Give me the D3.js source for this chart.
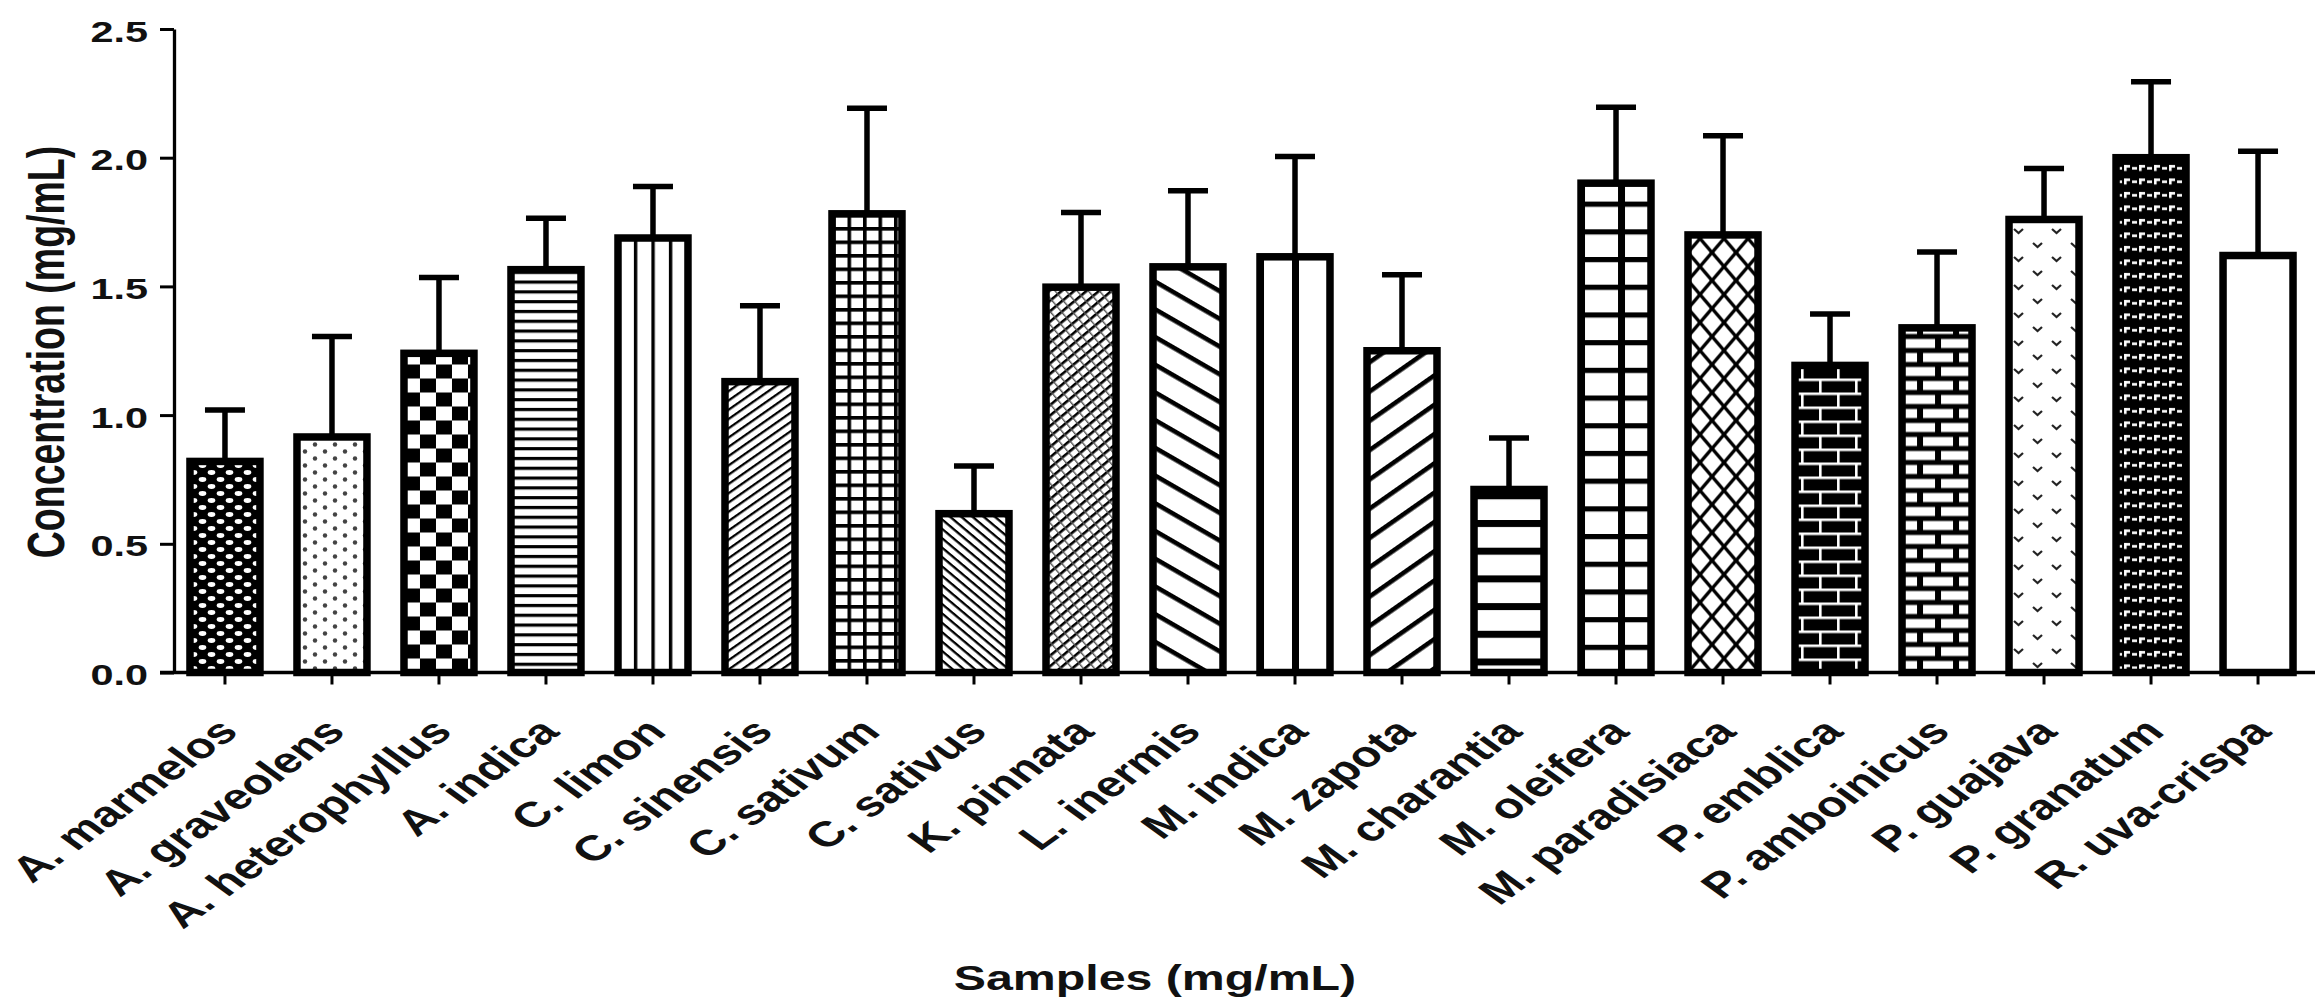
<!DOCTYPE html>
<html><head><meta charset="utf-8">
<script src="https://cdn.jsdelivr.net/npm/d3@7"></script>
<style>html,body{margin:0;padding:0;background:#fff;} svg{display:block;}</style>
</head><body>
<svg id="chart" width="2315" height="1003"></svg>
<script>
// ---- data ----
const categories = ["A. marmelos","A. graveolens","A. heterophyllus","A. indica","C. limon","C. sinensis","C. sativum","C. sativus","K. pinnata","L. inermis","M. indica","M. zapota","M. charantia","M. oleifera","M. paradisiaca","P. emblica","P. amboinicus","P. guajava","P. granatum","R. uva-crispa"];
const means = [0.82, 0.915, 1.24, 1.565, 1.688, 1.13, 1.782, 0.617, 1.497, 1.576, 1.615, 1.25, 0.711, 1.901, 1.70, 1.193, 1.339, 1.76, 2.00, 1.62];
const errors = [0.20, 0.39, 0.295, 0.20, 0.20, 0.295, 0.41, 0.185, 0.29, 0.296, 0.39, 0.295, 0.20, 0.295, 0.385, 0.20, 0.295, 0.198, 0.295, 0.405];
const yTicks = [0, 0.5, 1.0, 1.5, 2.0, 2.5];
const yTitle = "Concentration (mg/mL)";
const xTitle = "Samples (mg/mL)";

// ---- layout ----
const W = 2315, H = 1003;
const SX = 1.38; // horizontal stretch of the original figure text
const FONT = "'Liberation Sans', Arial, Helvetica, sans-serif";
const svg = d3.select("#chart");
svg.append("rect").attr("width", W).attr("height", H).attr("fill", "#fff");

const x = d3.scaleBand().domain(categories).range([175, 2308]).paddingInner(0.346).paddingOuter(0.14);
const y = d3.scaleLinear().domain([0, 2.5]).range([672.5, 29]);
const bw = x.bandwidth();
const y0 = y(0);

// ---- patterns ----
const defs = svg.append("defs");
function mk(id, w, h, bg, opts = {}) {
  const p = defs.append("pattern").attr("id", id).attr("patternUnits", "userSpaceOnUse")
    .attr("width", w).attr("height", h);
  if (opts.x !== undefined) p.attr("x", opts.x);
  if (opts.y !== undefined) p.attr("y", opts.y);
  if (opts.rot !== undefined) p.attr("patternTransform", `rotate(${opts.rot})`);
  p.append("rect").attr("width", w).attr("height", h).attr("fill", bg);
  return p;
}
function r(p, a, b, w, h, c) { p.append("rect").attr("x", a).attr("y", b).attr("width", w).attr("height", h).attr("fill", c); }

const makers = [
  (id, bx) => { const p = mk(id, 18, 14, "#000");
    p.append("ellipse").attr("cx", 4.5).attr("cy", 3.5).attr("rx", 3.8).attr("ry", 2.4).attr("fill", "#fff");
    p.append("ellipse").attr("cx", 13.5).attr("cy", 10.5).attr("rx", 3.8).attr("ry", 2.4).attr("fill", "#fff");
    p.append("ellipse").attr("cx", -4.5).attr("cy", 10.5).attr("rx", 3.8).attr("ry", 2.4).attr("fill", "#fff");
    p.append("ellipse").attr("cx", 22.5).attr("cy", 3.5).attr("rx", 3.8).attr("ry", 2.4).attr("fill", "#fff"); },
  (id, bx) => { const p = mk(id, 20, 14, "#fff");
    p.append("circle").attr("cx", 5).attr("cy", 3.5).attr("r", 2.2).attr("fill", "#444");
    p.append("circle").attr("cx", 15).attr("cy", 10.5).attr("r", 2.2).attr("fill", "#444"); },
  (id, bx) => { const p = mk(id, 32, 28, "#fff", {x: bx, y: y0});
    r(p, 0, 0, 16, 14, "#000"); r(p, 16, 14, 16, 14, "#000"); },
  (id, bx) => { const p = mk(id, 10, 9.8, "#fff", {y: y0}); r(p, 0, 0, 10, 3.2, "#000"); },
  (id, bx) => { const p = mk(id, bw / 4, 10, "#fff", {x: bx - 1.6}); r(p, 0, 0, 3.4, 10, "#000"); },
  (id, bx) => { const p = mk(id, 10, 7.6, "#fff", {rot: -35}); r(p, 0, 0, 10, 2.3, "#000"); },
  (id, bx) => { const p = mk(id, 15.5, 13.5, "#fff", {x: bx, y: y0});
    r(p, 0, 0, 15.5, 3.6, "#000"); r(p, 0, 0, 3.6, 13.5, "#000"); },
  (id, bx) => { const p = mk(id, 10, 7.2, "#fff", {rot: 40}); r(p, 0, 0, 10, 2.3, "#000"); },
  (id, bx) => { const p = mk(id, 8.5, 8, "#fff", {rot: -40});
    r(p, 0, 0, 8.5, 2.6, "#000"); r(p, 0, 0, 1.4, 8, "#555"); },
  (id, bx) => { const p = mk(id, 10, 24, "#fff", {rot: 30}); r(p, 0, 0, 10, 4.6, "#000"); },
  (id, bx) => { const p = mk(id, bw / 2, 10, "#fff", {x: bx - 3}); r(p, 0, 0, 7, 10, "#000"); },
  (id, bx) => { const p = mk(id, 10, 24, "#fff", {rot: -35}); r(p, 0, 0, 10, 4.6, "#000"); },
  (id, bx) => { const p = mk(id, 10, 27.7, "#fff", {y: y0 - 14}); r(p, 0, 0, 10, 7, "#000"); },
  (id, bx) => { const p = mk(id, 40, 27.7, "#fff", {x: bx - 3, y: y0});
    r(p, 0, 0, 7, 27.7, "#000"); r(p, 0, 0, 40, 5.2, "#000"); },
  (id, bx) => { const tw = 24, th = 28; const p = mk(id, tw, th, "#fff", {x: bx, y: y0});
    const offs = [[0,0],[tw,0],[-tw,0],[0,th],[0,-th]];
    offs.forEach(([ox, oy]) => {
      p.append("path").attr("d", `M${ox},${oy}L${ox+tw},${oy+th}M${ox+tw},${oy}L${ox},${oy+th}`)
        .attr("stroke", "#000").attr("stroke-width", 3.4).attr("fill", "none");
    }); },
  (id, bx) => { const p = mk(id, 36, 28, "#000", {x: bx, y: y0});
    r(p, 0, 0, 36, 2.6, "#fff"); r(p, 0, 14, 36, 2.6, "#fff");
    r(p, 6, 0, 2.6, 14, "#fff"); r(p, 24, 14, 2.6, 14, "#fff"); },
  (id, bx) => { const p = mk(id, 36, 28, "#000", {x: bx, y: y0});
    r(p, 3, 2.5, 30, 9, "#fff"); r(p, 21, 16.5, 30, 9, "#fff"); r(p, -15, 16.5, 30, 9, "#fff"); },
  (id, bx) => { const p = mk(id, 38, 28, "#fff", {x: bx});
    p.append("path").attr("d", "M5,5 L9.5,9 L14,5 M24,19 L28.5,23 L33,19")
      .attr("stroke", "#222").attr("stroke-width", 2.2).attr("fill", "none"); },
  (id, bx) => { const p = mk(id, 15, 13.5, "#000", {x: bx});
    r(p, 1, 5, 5, 2.6, "#fff"); r(p, 8, 3, 6, 2.6, "#fff"); r(p, 8, 3, 2.6, 6, "#fff"); },
  null
];

const pid = i => "pat" + i;
categories.forEach((c, i) => { if (makers[i]) makers[i](pid(i), x(c)); });

// ---- bars ----
const g = svg.append("g");
g.selectAll("rect.bar").data(categories).join("rect").attr("class", "bar")
  .attr("x", d => x(d)).attr("width", bw)
  .attr("y", (d, i) => y(means[i])).attr("height", (d, i) => y0 - y(means[i]))
  .attr("fill", (d, i) => makers[i] ? `url(#${pid(i)})` : "#fff")
  .attr("stroke", "#000").attr("stroke-width", 7.5);

// ---- error bars ----
const eg = svg.append("g").attr("stroke", "#000").attr("stroke-width", 5.5);
eg.selectAll("line.v").data(categories).join("line").attr("class", "v")
  .attr("x1", d => x(d) + bw / 2).attr("x2", d => x(d) + bw / 2)
  .attr("y1", (d, i) => y(means[i])).attr("y2", (d, i) => y(means[i] + errors[i]));
eg.selectAll("line.cap").data(categories).join("line").attr("class", "cap")
  .attr("x1", d => x(d) + bw / 2 - 20).attr("x2", d => x(d) + bw / 2 + 20)
  .attr("y1", (d, i) => y(means[i] + errors[i])).attr("y2", (d, i) => y(means[i] + errors[i]));

// ---- x axis ----
svg.append("line").attr("x1", 160).attr("x2", W).attr("y1", y0).attr("y2", y0)
  .attr("stroke", "#000").attr("stroke-width", 3.3);
const xa = svg.append("g").attr("transform", `translate(0,${y0})`)
  .call(d3.axisBottom(x).tickSize(12).tickSizeOuter(0));
xa.select(".domain").remove();
xa.selectAll(".tick line").attr("stroke", "#000").attr("stroke-width", 3);
xa.selectAll(".tick text")
  .attr("x", null).attr("y", null).attr("dy", null)
  .attr("transform", `translate(15,61) scale(${SX},1) rotate(-45)`)
  .attr("text-anchor", "end")
  .attr("font-family", FONT).attr("font-weight", "bold").attr("font-size", 35.5).attr("fill", "#111");

// ---- y axis ----
const ya = svg.append("g").attr("transform", "translate(174,0)")
  .call(d3.axisLeft(y).tickValues(yTicks).tickSize(14).tickSizeOuter(0).tickFormat(d3.format(".1f")));
ya.select(".domain").attr("stroke", "#000").attr("stroke-width", 3.3);
ya.selectAll(".tick line").attr("stroke", "#000").attr("stroke-width", 3);
ya.selectAll(".tick text")
  .attr("x", null).attr("dy", null)
  .attr("transform", `translate(-26,12) scale(${SX},1)`)
  .attr("text-anchor", "end")
  .attr("font-family", FONT).attr("font-weight", "bold").attr("font-size", 30).attr("fill", "#111");

// ---- titles ----
svg.append("text").text(yTitle)
  .attr("transform", `translate(64,352) scale(${SX},1) rotate(-90)`)
  .attr("text-anchor", "middle").attr("font-family", FONT).attr("font-weight", "bold")
  .attr("font-size", 37.5).attr("fill", "#111");
svg.append("text").text(xTitle)
  .attr("transform", `translate(1155,990) scale(${SX},1)`)
  .attr("text-anchor", "middle").attr("font-family", FONT).attr("font-weight", "bold")
  .attr("font-size", 35).attr("fill", "#111");
</script>
</body></html>
